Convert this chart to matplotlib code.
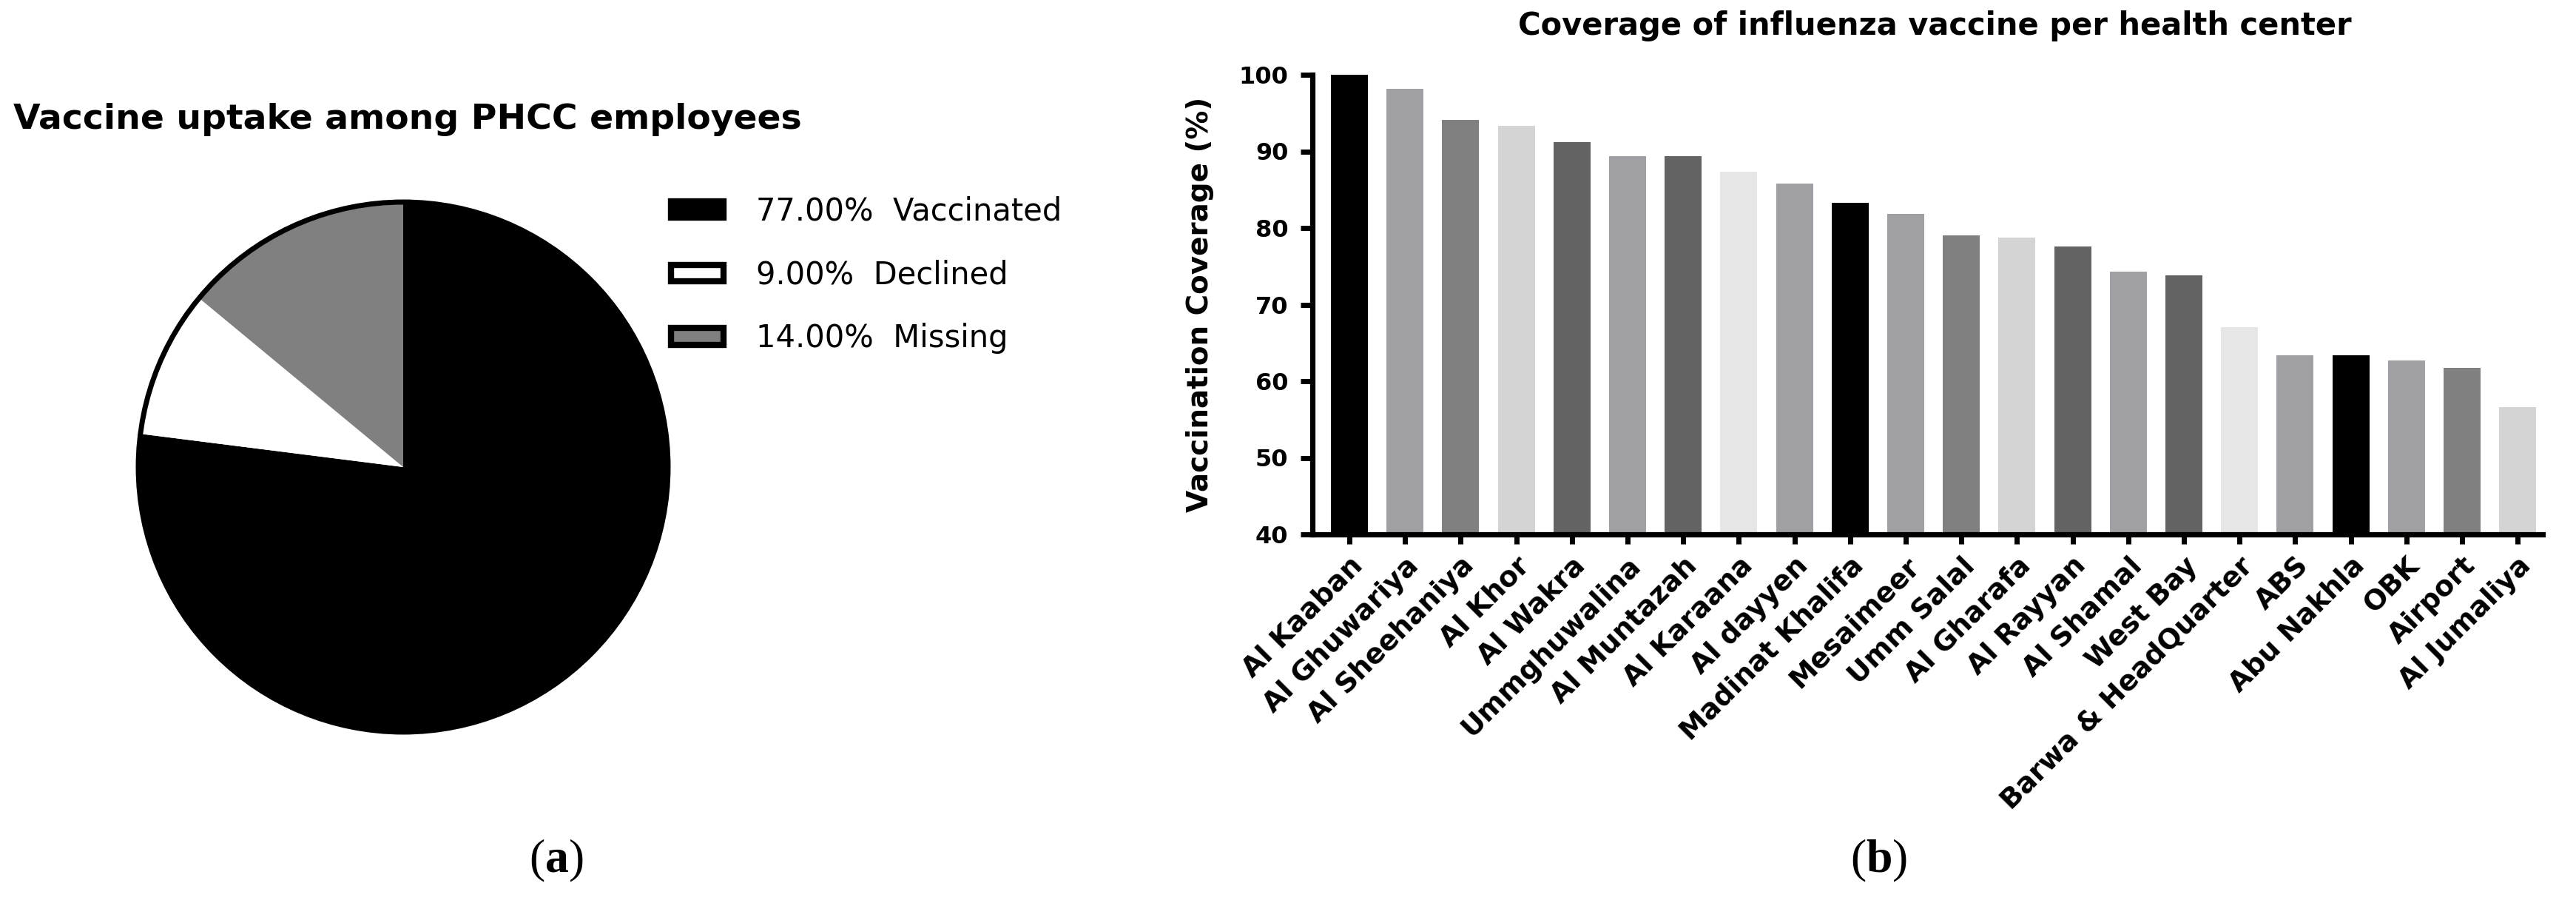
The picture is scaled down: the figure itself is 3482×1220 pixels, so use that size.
import matplotlib
matplotlib.use('Agg')
import matplotlib.pyplot as plt
from matplotlib.patches import Patch, Circle

# panel (a): vaccine uptake among employees
status = ['Vaccinated', 'Declined', 'Missing']
share = [77.0, 9.0, 14.0]
share_colors = ['#000000', '#ffffff', '#808080']

# panel (b): coverage per health center
centers = ['Al Kaaban', 'Al Ghuwariya', 'Al Sheehaniya', 'Al Khor', 'Al Wakra',
           'Ummghuwalina', 'Al Muntazah', 'Al Karaana', 'Al dayyen', 'Madinat Khalifa',
           'Mesaimeer', 'Umm Salal', 'Al Gharafa', 'Al Rayyan', 'Al Shamal', 'West Bay',
           'Barwa & HeadQuarter', 'ABS', 'Abu Nakhla', 'OBK', 'Airport', 'Al Jumaliya']
coverage = [100.0, 98.2, 94.1, 93.3, 91.2, 89.4, 89.4, 87.3, 85.8, 83.3, 81.8,
            79.0, 78.7, 77.6, 74.3, 73.8, 67.1, 63.4, 63.4, 62.7, 61.7, 56.6]
bar_colors = ['#000000', '#a0a0a4', '#808080', '#d4d4d4', '#636363', '#a0a0a4',
              '#636363', '#e6e6e6', '#a0a0a4', '#000000', '#a0a0a4', '#808080',
              '#d4d4d4', '#636363', '#a0a0a4', '#636363', '#e6e6e6', '#a0a0a4',
              '#000000', '#a0a0a4', '#808080', '#d4d4d4']

plt.rcParams['font.family'] = 'DejaVu Sans'
plt.rcParams['mathtext.fontset'] = 'custom'
plt.rcParams['mathtext.rm'] = 'Liberation Serif'
plt.rcParams['mathtext.bf'] = 'Liberation Serif:bold'

W, H = 3482, 1220
fig = plt.figure(figsize=(W / 100, H / 100), dpi=100)


def box(l, t, r, b):
    return [l / W, 1 - b / H, (r - l) / W, (b - t) / H]


# ---- pie ----
ax1 = fig.add_axes(box(545 - 358, 631 - 358, 545 + 358, 631 + 358))
ax1.pie(share, colors=share_colors, startangle=90, counterclock=False,
        wedgeprops=dict(linewidth=0))
ax1.add_patch(Circle((0, 0), 1, fill=False, ec='black', lw=5, clip_on=False))
ax1.set_xlim(-1, 1)
ax1.set_ylim(-1, 1)
ax1.set_aspect('equal')
ax1.axis('off')

fig.text(18 / W, 1 - 174 / H, 'Vaccine uptake among PHCC employees',
         fontsize=34, fontweight='bold', ha='left', va='baseline')

handles = [Patch(facecolor=c, edgecolor='black', linewidth=6) for c in share_colors]
labels = [f'{v:.2f}%  {s}' for v, s in zip(share, status)]
fig.legend(handles, labels, loc='upper left', bbox_to_anchor=(907 / W, 1 - 265 / H),
           frameon=False, fontsize=30, handlelength=1.7, handleheight=0.45,
           handletextpad=1.05, labelspacing=1.05, borderpad=0, borderaxespad=0)

# ---- bars ----
ax2 = fig.add_axes(box(1774, 101, 3437, 722))
x = list(range(len(centers)))
ax2.bar(x, coverage, width=0.665, color=bar_colors)
ax2.set_ylim(40, 100)
ax2.set_xlim(-0.665, 21.45)
ax2.spines['top'].set_visible(False)
ax2.spines['right'].set_visible(False)
ax2.spines['left'].set_linewidth(5.2)
ax2.spines['bottom'].set_linewidth(5.2)
ax2.set_yticks(range(40, 101, 10))
ax2.tick_params(axis='y', length=11.5, width=5, labelsize=23, pad=12)
ax2.tick_params(axis='x', length=9.5, width=5, labelsize=27, pad=8)
ax2.set_xticks(x)
ax2.set_xticklabels(centers, rotation=45, ha='right', va='top',
                    rotation_mode='anchor', fontweight='bold')
for lbl in ax2.get_yticklabels():
    lbl.set_fontweight('bold')
ax2.set_ylabel('Vaccination Coverage (%)', fontsize=28, fontweight='bold')
ax2.yaxis.set_label_coords(-0.08, 0.5)

fig.text(2615 / W, 1 - 47 / H, 'Coverage of influenza vaccine per health center',
         fontsize=30, fontweight='bold', ha='center', va='baseline')

# captions
fig.text(752 / W, 1 - 1163 / H, r'($\mathbf{a}$)', family='Liberation Serif',
         fontsize=46, ha='center', va='center')
fig.text(2540 / W, 1 - 1163 / H, r'($\mathbf{b}$)', family='Liberation Serif',
         fontsize=46, ha='center', va='center')

fig.savefig('out.png', dpi=100)
